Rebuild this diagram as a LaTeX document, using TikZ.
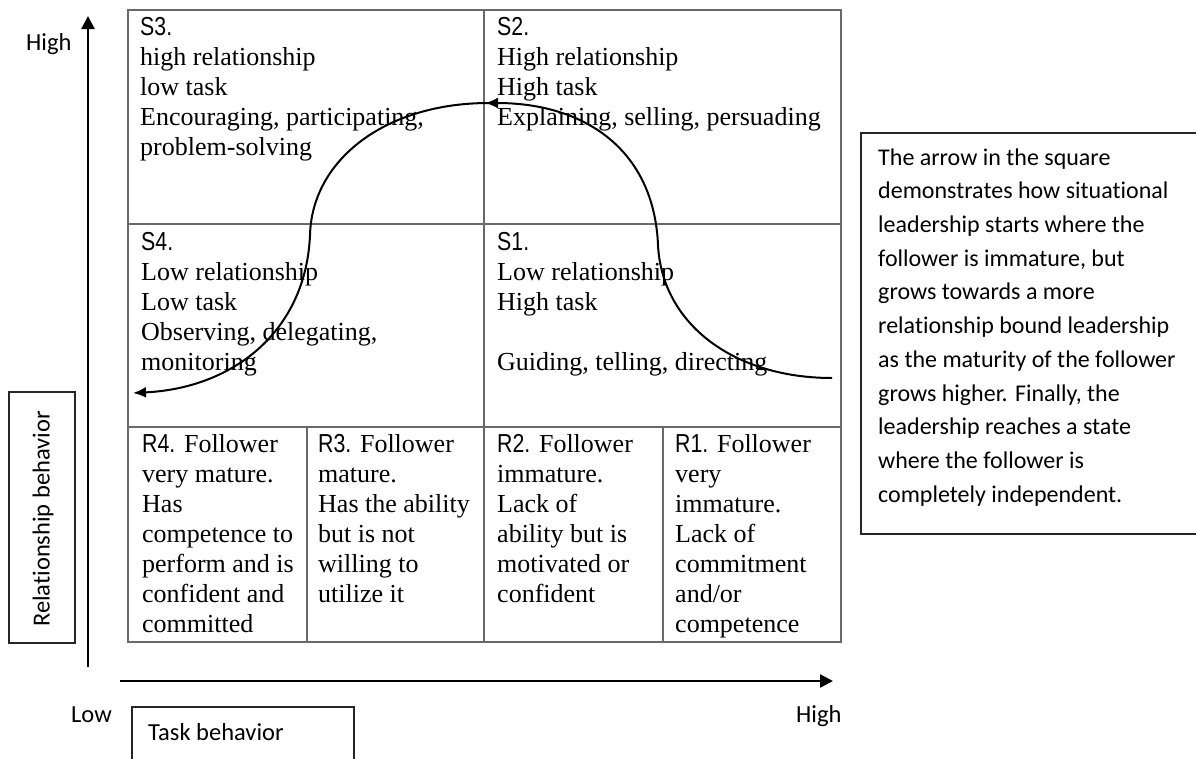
\documentclass[tikz,border=0pt]{standalone}
\usepackage{fontspec}
\setmainfont{Liberation Serif}
\newfontfamily\calfont[Ligatures=NoCommon]{Carlito}
\newfontfamily\narrowfont[FakeStretch=0.82]{Liberation Sans}
\usetikzlibrary{arrows.meta}
\tikzset{
  gridline/.style={draw={rgb,255:red,105;green,105;blue,105}, line width=1.5pt},
  axisline/.style={draw=black, line width=2.5pt, -{Triangle[length=13pt,width=13pt]}},
  flowline/.style={draw=black, line width=2pt, -{Latex[length=13pt,width=11pt]}},
  celltext/.style={anchor=north west, inner sep=0pt, align=left, font=\fontsize{26}{30}\selectfont},
  sidetext/.style={anchor=north west, inner sep=0pt, align=left, font=\calfont\fontsize{24}{33.7}\selectfont},
  labeltext/.style={anchor=base west, inner sep=0pt, font=\calfont\fontsize{24.5}{28}\selectfont},
  framebox/.style={draw=black!85, line width=1.5pt}
}
\begin{document}
\begin{tikzpicture}[x=1pt,y=-1pt]
\useasboundingbox (0,0) rectangle (1196,758);
\clip (0,0) rectangle (1196,758);
% grid
\draw[gridline] (128,10) rectangle (841,642);
\draw[gridline] (484,10) -- (484,642);
\draw[gridline] (128,224) -- (841,224);
\draw[gridline] (128,427) -- (841,427);
\draw[gridline] (307,427) -- (307,642);
\draw[gridline] (663,427) -- (663,642);
% quadrant texts
\node[celltext] (s3) at (140,14) {\strut{\narrowfont S3.}\\high relationship\\low task\\Encouraging, participating,\\problem-solving};
\node[celltext] (s2) at (497,14) {\strut{\narrowfont S2.}\\High relationship\\High task\\Explaining, selling, persuading};
\node[celltext] (s4) at (141,229) {\strut{\narrowfont S4.}\\Low relationship\\Low task\\Observing, delegating,\\monitoring};
\node[celltext] (s1) at (497,229) {\strut{\narrowfont S1.}\\Low relationship\\High task\\\strut\\Guiding, telling, directing};
% readiness texts
\node[celltext] (r4) at (142,431) {\strut{\narrowfont R4.} Follower\\very mature.\\Has\\competence to\\perform and is\\confident and\\committed};
\node[celltext] (r3) at (318,431) {\strut{\narrowfont R3.} Follower\\mature.\\Has the ability\\but is not\\willing to\\utilize it};
\node[celltext] (r2) at (497,431) {\strut{\narrowfont R2.} Follower\\immature.\\Lack of\\ability but is\\motivated or\\confident};
\node[celltext] (r1) at (675,431) {\strut{\narrowfont R1.} Follower\\very\\immature.\\Lack of\\commitment\\and/or\\competence};
% curve
\coordinate (cstart) at (832,378);
\coordinate (cmid) at (485,103);
\coordinate (cmid2) at (489,103);
\coordinate (cend) at (133,393);
\draw[flowline] (cstart) .. controls (735,378) and (662,325) .. (658,245)
  .. controls (654,150) and (585,103) .. (cmid);
\draw[flowline] (cmid2) .. controls (385,103) and (312,160) .. (310,235)
  .. controls (306,330) and (235,388) .. (cend);
% axes
\coordinate (yfrom) at (88,667);
\coordinate (yto) at (88,16);
\coordinate (xfrom) at (120,681);
\coordinate (xto) at (833,681);
\draw[axisline] (yfrom) -- (yto);
\draw[axisline] (xfrom) -- (xto);
\node[labeltext] (yhigh) at (26,50) {High};
\node[labeltext] (xlow) at (71,722) {Low};
\node[labeltext] (xhigh) at (796,722) {High};
% axis title boxes
\draw[framebox] (9,392) rectangle (75,643);
\node[rotate=90, inner sep=0pt, font=\calfont\fontsize{24.5}{28}\selectfont] (rel) at (43,519) {Relationship behavior};
\draw[framebox] (132,707) rectangle (354,770);
\node[labeltext] (task) at (148,740) {Task behavior};
% explanation box
\draw[framebox] (861,133) rectangle (1200,534);
\node[sidetext] (expl) at (878,141.4) {\strut The arrow in the square\\demonstrates how situational\\leadership starts where the\\follower is immature, but\\grows towards a more\\relationship bound leadership\\as the maturity of the follower\\grows higher. Finally, the\\leadership reaches a state\\where the follower is\\completely independent.};
\end{tikzpicture}
\end{document}
